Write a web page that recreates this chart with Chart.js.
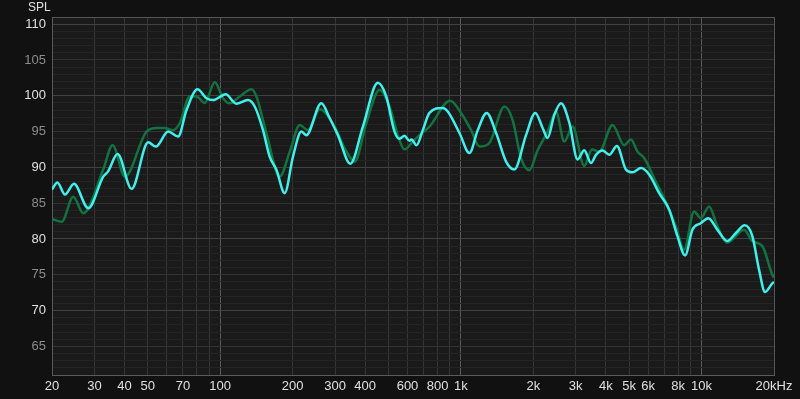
<!DOCTYPE html>
<html>
<head>
<meta charset="utf-8">
<script src="https://cdn.jsdelivr.net/npm/chart.js@4/dist/chart.umd.min.js"></script>
<style>
  html, body { margin: 0; padding: 0; background: #111111; }
  #chart { display: block; }
</style>
</head>
<body>
<canvas id="chart" width="800" height="399"></canvas>
<script>
// Cyan curve (front), frequency in Hz / SPL in dB
const cyanFreq = [20, 21.05, 22.65, 24.67, 28.3, 32.65, 34.15, 37.46, 42.83, 50.19,
    54.03, 60.77, 66.87, 72.43, 80.46, 87.67, 93.38, 105.4, 116.5, 130.4,
    139.1, 150.6, 160.5, 171.1, 185.3, 200.6, 217.4, 228, 263.1, 284.8,
    308.3, 347.2, 391.6, 451.9, 489.6, 530, 555.9, 583.1, 611.6, 623.6,
    654, 694.6, 740.5, 840.8, 881.9, 986.5, 1085, 1175, 1280, 1401,
    1541, 1668, 1865, 2039, 2186, 2293, 2444, 2606, 2823, 3054,
    3256, 3472, 3641, 3878, 4136, 4450, 4849, 5165, 5598, 6057,
    6666, 7333, 7941, 8544, 9163, 9928, 10676, 11631, 12795, 13869,
    15115, 16255, 17336, 18357, 19680, 20000];
const cyanSpl = [86.9, 87.9, 86.2, 87.7, 84.3, 88.7, 89.4, 91.85, 87.0, 93.5,
    92.9, 95.0, 94.3, 98.0, 100.9, 99.65, 99.4, 100.2, 98.9, 99.4,
    98.5, 95.2, 91.5, 89.7, 86.4, 91.5, 95.0, 94.5, 98.95, 96.9,
    94.5, 90.5, 95.7, 101.8, 99.9, 95.0, 94.0, 94.4, 93.7, 93.9,
    93.1, 95.2, 97.6, 98.3, 97.8, 94.8, 92.0, 95.2, 97.6, 94.8,
    90.8, 89.7, 94.5, 97.6, 95.5, 94.1, 97.3, 98.95, 96.2, 91.1,
    92.4, 90.6, 91.75, 92.35, 91.75, 93.0, 89.7, 89.3, 89.9, 89.0,
    86.4, 84.1, 80.4, 77.7, 81.3, 82.2, 82.9, 81.3, 79.7, 80.8,
    81.9, 80.4, 75.7, 72.6, 73.8, 74.0];

// Dark green curve (behind)
const greenFreq = [20, 21.95, 24.51, 26.97, 32.65, 35.71, 40.18, 49.42, 54.39, 58.87,
    63.72, 67.95, 74.73, 79.67, 86.28, 94.93, 102.8, 109.6, 120.5, 134.8,
    141.4, 155.6, 176.6, 195, 213.9, 231.5, 258.9, 298.9, 328.8, 361.8,
    404.6, 459.2, 505.2, 547, 583.1, 631.3, 673, 740.5, 902.3, 1002,
    1103, 1194, 1313, 1517, 1641, 1778, 1925, 2084, 2293, 2485,
    2689, 2912, 3256, 3506, 3759, 4267, 4771, 5088, 5418, 5775,
    6457, 7103, 7817, 8464, 9312, 9928, 10751, 11631, 12795, 15014,
    16255, 17891, 19680, 20000];
const greenSpl = [82.8, 82.4, 85.9, 83.6, 89.7, 93.1, 88.7, 95.0, 95.5, 95.5,
    95.2, 96.2, 99.9, 99.9, 99.0, 101.9, 99.65, 98.95, 99.9, 100.9,
    99.9, 94.8, 88.7, 92.3, 95.9, 95.2, 98.1, 95.7, 92.7, 90.8,
    96.2, 100.8, 98.5, 94.5, 92.5, 93.6, 94.5, 95.7, 99.3, 97.6,
    95.2, 92.9, 93.4, 98.5, 96.6, 91.3, 89.6, 92.4, 95.0, 97.8,
    93.6, 95.7, 90.2, 92.5, 92.2, 95.9, 93.1, 93.9, 92.2, 91.3,
    88.0, 85.2, 81.8, 78.5, 83.85, 82.9, 84.55, 81.8, 79.5, 81.3,
    79.7, 79.0, 75.0, 74.6];

// Axis ticks
const freqLabels = [20, 30, 40, 50, 70, 100, 200, 300, 400, 600, 800,
    1000, 2000, 3000, 4000, 5000, 6000, 8000, 10000, 20000];
const splLabels = [65, 70, 75, 80, 85, 90, 95, 100, 105, 110];
const splMin = 61;
const splMax = 111;

const FONT = { family: "'Liberation Sans', Arial, sans-serif", size: 13 };

function toPoints(xs, ys) {
    return xs.map((x, i) => ({ x: x, y: ys[i] }));
}

function freqText(v) {
    if (v === 20000) return '20kHz';
    if (v >= 1000) return (v / 1000) + 'k';
    return String(v);
}

// fill the plot area and draw the "SPL" caption
const backdrop = {
    id: 'backdrop',
    beforeDraw(chart) {
        const a = chart.chartArea;
        const ctx = chart.ctx;
        ctx.save();
        ctx.fillStyle = '#1a1a1a';
        ctx.fillRect(a.left, a.top, a.right - a.left, a.bottom - a.top);
        ctx.restore();
    },
    afterDraw(chart) {
        const ctx = chart.ctx;
        ctx.save();
        ctx.font = "12px 'Liberation Sans', Arial, sans-serif";
        ctx.fillStyle = '#e0e0e0';
        ctx.textBaseline = 'middle';
        ctx.fillText('SPL', 28, 8);
        ctx.restore();
    }
};

const ctx = document.getElementById('chart').getContext('2d');
new Chart(ctx, {
    type: 'line',
    data: {
        datasets: [
            {
                label: 'cyan',
                data: toPoints(cyanFreq, cyanSpl),
                borderColor: '#3ff0ec',
                borderWidth: 2.5,
                pointRadius: 0,
                cubicInterpolationMode: 'monotone',
                order: 0
            },
            {
                label: 'green',
                data: toPoints(greenFreq, greenSpl),
                borderColor: '#127341',
                borderWidth: 2.5,
                pointRadius: 0,
                cubicInterpolationMode: 'monotone',
                order: 1
            }
        ]
    },
    options: {
        responsive: false,
        animation: false,
        layout: { padding: { top: 17, right: 26, left: 0, bottom: 0 } },
        plugins: {
            legend: { display: false },
            tooltip: { enabled: false }
        },
        scales: {
            x: {
                type: 'logarithmic',
                min: 20,
                max: 20000,
                afterBuildTicks(scale) {
                    const ticks = [];
                    for (let d = 10; d <= 10000; d *= 10) {
                        for (let m = 1; m <= 9; m++) {
                            const v = d * m;
                            if (v >= 20 && v <= 20000) ticks.push({ value: v });
                        }
                    }
                    scale.ticks = ticks;
                },
                afterFit(scale) { scale.height = 24; },
                grid: {
                    drawTicks: false,
                    lineWidth: 1,
                    color(c) {
                        const v = c.tick ? c.tick.value : 0;
                        if (v === 20 || v === 20000) return '#555555';
                        if (v === 100 || v === 1000 || v === 10000) return '#5a5a5a';
                        return '#363636';
                    }
                },
                border: { display: true, color: '#5a5a5a' },
                ticks: {
                    autoSkip: false,
                    maxRotation: 0,
                    padding: 4,
                    color: '#e0e0e0',
                    font: FONT,
                    callback(value) {
                        return freqLabels.includes(value) ? freqText(value) : '';
                    }
                }
            },
            y: {
                type: 'linear',
                min: splMin,
                max: splMax,
                afterBuildTicks(scale) {
                    const ticks = [];
                    for (let v = splMin; v <= splMax; v++) ticks.push({ value: v });
                    scale.ticks = ticks;
                },
                afterFit(scale) { scale.width = 52; },
                grid: {
                    drawTicks: false,
                    lineWidth: 1,
                    color(c) {
                        const v = c.tick ? c.tick.value : 0;
                        if (v === splMin || v === splMax) return '#555555';
                        if (v % 10 === 0) return '#424242';
                        if (v % 5 === 0) return '#333333';
                        return '#242424';
                    }
                },
                border: { display: true, color: '#5a5a5a' },
                ticks: {
                    autoSkip: false,
                    padding: 6,
                    font: FONT,
                    color(c) {
                        const v = c.tick ? c.tick.value : 0;
                        return v % 10 === 0 ? '#e0e0e0' : '#8c8c8c';
                    },
                    callback(value) {
                        return splLabels.includes(value) ? String(value) : '';
                    }
                }
            }
        }
    },
    plugins: [backdrop]
});
</script>
</body>
</html>
